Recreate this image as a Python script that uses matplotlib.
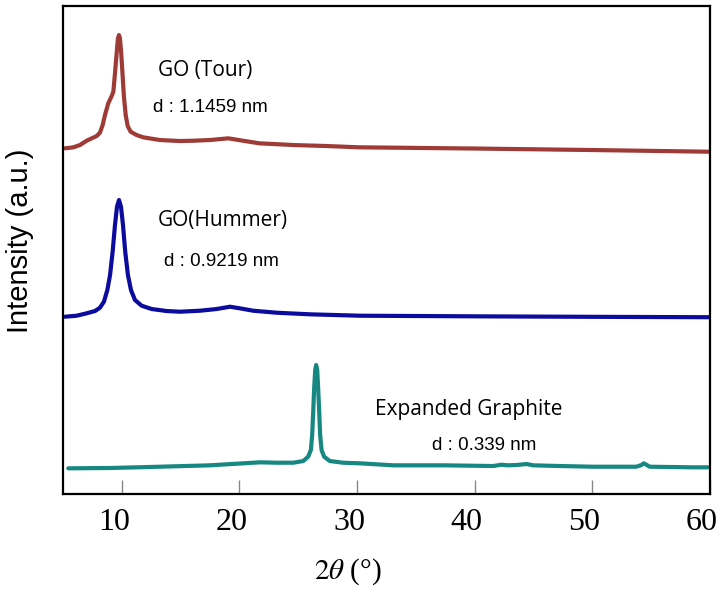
import matplotlib
matplotlib.use("Agg")
import matplotlib.pyplot as plt
from matplotlib.transforms import ScaledTranslation

# 2theta (deg) / intensity (a.u., offset stacked)
tour_x = [5.17, 5.88, 6.44, 7.01, 7.44, 7.86, 8.14, 8.37, 8.57, 8.85, 9.14, 9.28,
          9.42, 9.56, 9.67, 9.76, 9.84, 9.93, 10.04, 10.18, 10.33, 10.5, 10.75,
          11.26, 11.82, 13.24, 14.94, 16.07, 17.5, 19.05, 20.3, 21.7, 24.57,
          27.4, 30.2, 40.0, 50.0, 60.0]
tour_y = [345.7, 346.7, 349, 353.3, 355.7, 358, 361.3, 369, 379, 390.7, 398, 402.3,
          420.7, 440.7, 455.7, 459, 455.7, 444, 424, 397.3, 379, 368, 362.3,
          359, 356.7, 354, 353, 353.3, 354, 355.7, 353.3, 350.7, 349,
          348, 346.7, 345.5, 344, 342.3]

hummer_x = [5.17, 6.16, 7.01, 7.72, 8.14, 8.48, 8.77, 9.0, 9.22, 9.42, 9.59, 9.76,
            9.93, 10.1, 10.29, 10.52, 10.78, 11.12, 11.69, 12.54, 13.81, 14.94,
            16.64, 18.06, 19.19, 20.04, 21.17, 23.16, 25.99, 30.23, 40.0, 50.0, 60.0]
hummer_y = [177.3, 178.3, 180.7, 183, 186.3, 192.3, 204, 219, 242.3, 269, 287.3, 294,
            287.3, 269, 242.3, 219, 204, 194, 188.3, 185, 183, 182.3,
            183.3, 185, 187.3, 185.7, 183.3, 181.3, 179.7, 178.3, 177.7, 177.2, 176.8]

eg_x = [5.45, 8.99, 13.24, 17.49, 20.32, 21.74, 23.16, 24.57, 25.42, 25.84, 26.07,
        26.18, 26.27, 26.35, 26.44, 26.52, 26.61, 26.69, 26.78, 26.86, 26.98,
        27.2, 27.68, 28.81, 30.23, 33.06, 37.3, 41.56, 42.27, 42.83, 43.55, 44.4,
        44.96, 47.23, 50.06, 53.74, 54.17, 54.36, 54.59, 54.87, 58.55, 59.83]
eg_y = [25.7, 26, 27.3, 28.7, 30.7, 31.7, 31.3, 31.3, 33, 37.3, 44,
        59, 82.3, 105.7, 124, 129, 124, 105.7, 82.3, 59, 44,
        37.3, 33, 31.3, 30.7, 28.7, 28.7, 28, 29.3, 28.7, 29, 30,
        28.7, 28, 27.3, 27.3, 29, 30.7, 29.3, 27.3, 26.7, 26.7]

xticks = [10, 20, 30, 40, 50, 60]

plt.rcParams["mathtext.fontset"] = "stix"

fig = plt.figure(figsize=(7.24, 5.91), dpi=100)
ax = fig.add_axes([0.087, 0.1641, 0.8937, 0.8257])

style = dict(lw=3, solid_capstyle="round", solid_joinstyle="round")
ax.plot(tour_x, tour_y, color="#9E3B36", **style)
ax.plot(hummer_x, hummer_y, color="#0B0B9E", **style)
ax.plot(eg_x, eg_y, color="#178782", **style)

ax.set_xlim(5, 60)
ax.set_ylim(0, 488)
ax.set_yticks([])
ax.set_xticks(xticks)
ax.set_xticklabels([str(t) for t in xticks], fontfamily="Liberation Serif", fontsize=23)
ax.tick_params(axis="x", direction="in", length=10, width=1, color="#888888", pad=10)
for lab in ax.get_xticklabels():
    lab.set_transform(lab.get_transform() + ScaledTranslation(-0.08, 0, fig.dpi_scale_trans))

for s in ax.spines.values():
    s.set_linewidth(1.6)
    s.set_color("black")

fig.text(0.48, 0.032, r"$2\theta$ (°)", fontfamily="Liberation Serif", fontsize=21,
         ha="center", va="center")
fig.text(0.028, 0.592, "Intensity (a.u.)", fontfamily="Liberation Sans", fontsize=21,
         rotation=90, ha="center", va="center")

lab_font = "Open Sans"
d_font = "Liberation Sans"
ax.text(13.07, 424, "GO (Tour)", fontfamily=lab_font, fontsize=15, ha="left", va="center")
ax.text(12.65, 387, "d : 1.1459 nm", fontfamily=d_font, fontsize=13.5, ha="left", va="center")
ax.text(13.07, 274, "GO(Hummer)", fontfamily=lab_font, fontsize=15, ha="left", va="center")
ax.text(13.58, 233, "d : 0.9219 nm", fontfamily=d_font, fontsize=13.5, ha="left", va="center")
ax.text(31.5, 85, "Expanded Graphite", fontfamily=lab_font, fontsize=15, ha="left", va="center")
ax.text(36.4, 49, "d : 0.339 nm", fontfamily=d_font, fontsize=13.5, ha="left", va="center")

fig.savefig("out.png", dpi=100)
